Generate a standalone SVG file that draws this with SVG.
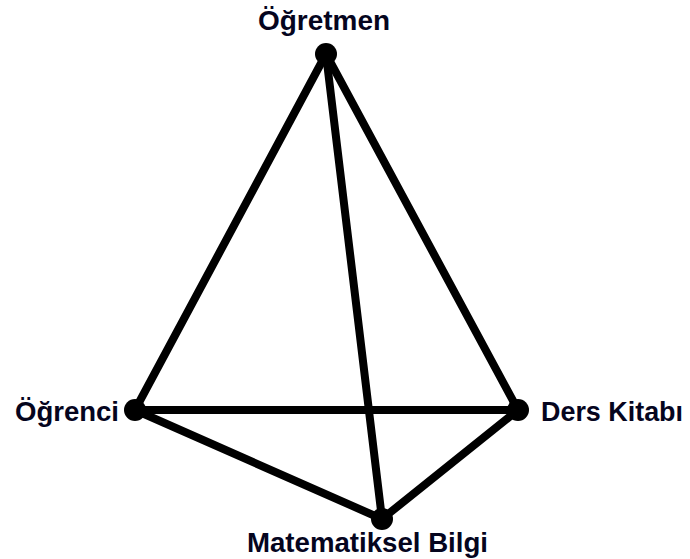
<svg xmlns="http://www.w3.org/2000/svg" width="690" height="559" viewBox="0 0 690 559">
<style>
.e{stroke:#000;stroke-width:8;stroke-linecap:round;fill:none}
.d{fill:#000}
.t{font-family:"Liberation Sans",Arial,sans-serif;font-weight:bold;font-size:27px;fill:#05051e}
</style>
<rect width="690" height="559" fill="#fff"/>
<g id="connectors">
<line class="e" x1="326" y1="54" x2="135" y2="410"/>
<line class="e" x1="326" y1="54" x2="518" y2="410"/>
<line class="e" x1="326" y1="54" x2="382" y2="519"/>
<line class="e" x1="135" y1="410" x2="518" y2="410"/>
<line class="e" x1="135" y1="410" x2="382" y2="519"/>
<line class="e" x1="518" y1="410" x2="382" y2="519"/>
</g>
<g id="ogretmen">
<circle class="d" cx="326" cy="54" r="11"/>
<text class="t" x="258" y="30" textLength="132" lengthAdjust="spacingAndGlyphs">Öğretmen</text>
</g>
<g id="ogrenci">
<circle class="d" cx="135" cy="410" r="11"/>
<text class="t" x="15" y="421" textLength="104" lengthAdjust="spacingAndGlyphs">Öğrenci</text>
</g>
<g id="ders-kitabi">
<circle class="d" cx="518" cy="410" r="11"/>
<text class="t" x="541" y="421" textLength="142" lengthAdjust="spacingAndGlyphs">Ders Kitabı</text>
</g>
<g id="matematiksel-bilgi">
<circle class="d" cx="382" cy="519" r="11"/>
<text class="t" x="247" y="552" textLength="241" lengthAdjust="spacingAndGlyphs">Matematiksel Bilgi</text>
</g>
</svg>
